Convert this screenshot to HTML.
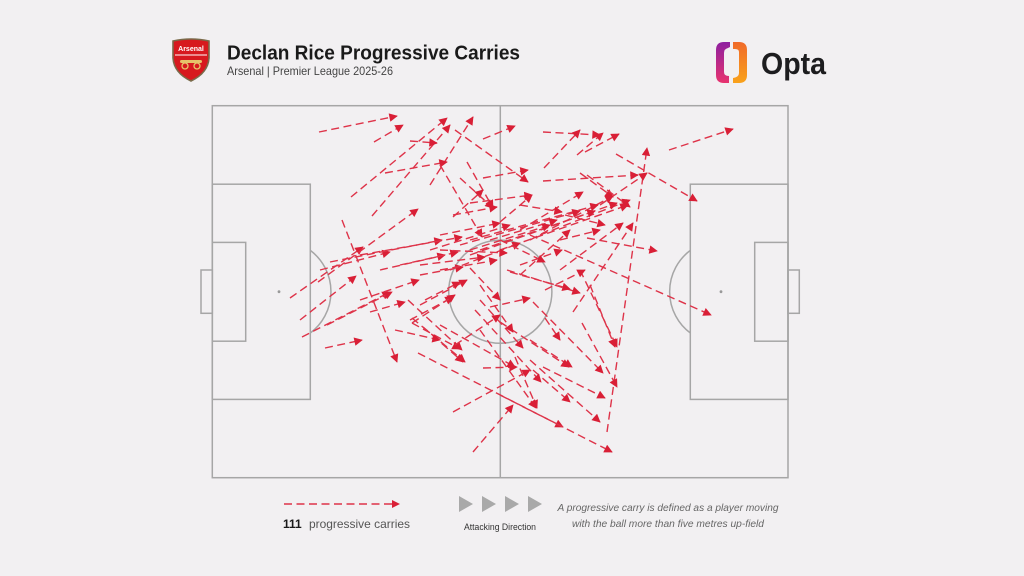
<!DOCTYPE html>
<html><head><meta charset="utf-8"><style>
html,body{margin:0;padding:0;background:#f2f0f2;}
svg{display:block;}
</style></head><body>
<svg width="1024" height="576" viewBox="0 0 1024 576" xmlns="http://www.w3.org/2000/svg">
<defs>
<marker id="ah" viewBox="0 0 10 10" markerWidth="9" markerHeight="8.5" refX="9" refY="5" orient="auto" markerUnits="userSpaceOnUse">
<path d="M0,0 L10,5 L0,10 z" fill="#d91f36"/>
</marker>
<linearGradient id="gl" x1="0" y1="0" x2="0" y2="1"><stop offset="0" stop-color="#8e1fa0"/><stop offset="1" stop-color="#e8336f"/></linearGradient>
<linearGradient id="gr" x1="0" y1="0" x2="0" y2="1"><stop offset="0" stop-color="#f06a2a"/><stop offset="1" stop-color="#f9a21b"/></linearGradient>
</defs>
<rect width="1024" height="576" fill="#f2f0f2"/>

<path d="M173,41 Q191,37 209,41 L209,58 Q208,73 191,81 Q174,73 173,58 Z" fill="#d7191e" stroke="#7a6a4a" stroke-width="1.6"/>
<text x="191" y="51" text-anchor="middle" font-family="Liberation Sans, sans-serif" font-weight="bold" font-size="7" fill="#fff">Arsenal</text>
<line x1="175" y1="55" x2="207" y2="55" stroke="#fff" stroke-width="1"/>
<rect x="180" y="60" width="22" height="3" rx="1.5" fill="#e6c46a"/>
<circle cx="185" cy="66" r="3" fill="none" stroke="#e6c46a" stroke-width="1.3"/>
<circle cx="197" cy="66" r="3" fill="none" stroke="#e6c46a" stroke-width="1.3"/>

<text x="227" y="59.5" font-family="Liberation Sans, sans-serif" font-weight="bold" font-size="20.5" fill="#1a1a1a" textLength="293" lengthAdjust="spacingAndGlyphs">Declan Rice Progressive Carries</text>
<text x="227" y="75" font-family="Liberation Sans, sans-serif" font-size="12" fill="#444" textLength="166" lengthAdjust="spacingAndGlyphs">Arsenal | Premier League 2025-26</text>

<path d="M730,42 L724,42 Q716,42 716,50 L716,75 Q716,83 724,83 L729,83 L729,76 Q724,76 724,72 L724,53 Q724,49 728,48 L730,47 Z" fill="url(#gl)"/>
<path d="M733,42 L739,42 Q747,42 747,50 L747,75 Q747,83 739,83 L733,83 L733,78 Q739,77 739,73 L739,52 Q739,49 735,49 L733,49 Z" fill="url(#gr)"/>
<text x="761" y="74" font-family="Liberation Sans, sans-serif" font-weight="bold" font-size="31" fill="#1d1d1f" textLength="65" lengthAdjust="spacingAndGlyphs">Opta</text>

<g fill="none" stroke="#a6a6a6" stroke-width="1.5">
<rect x="212.3" y="105.7" width="575.7" height="372"/>
<line x1="500.3" y1="105.7" x2="500.3" y2="477.7"/>
<circle cx="500.3" cy="291.7" r="51.6"/>
<rect x="212.3" y="184.2" width="98" height="215.2"/>
<rect x="212.3" y="242.4" width="33.4" height="98.8"/>
<rect x="201" y="270" width="11.3" height="43.3"/>
<path d="M310.3,250.4 A51.6,51.6 0 0 1 310.3,333"/>
<rect x="690.3" y="184.2" width="97.7" height="215.2"/>
<rect x="754.7" y="242.4" width="33.3" height="98.8"/>
<rect x="788" y="270" width="11.3" height="43.3"/>
<path d="M690.3,250.4 A51.6,51.6 0 0 0 690.3,333"/>
</g>
<circle cx="279" cy="291.7" r="1.4" fill="#999"/>
<circle cx="721" cy="291.7" r="1.4" fill="#999"/>

<g stroke="#de3349" stroke-width="1.4" stroke-dasharray="8 4.5" marker-end="url(#ah)" fill="none">
<line x1="319" y1="132" x2="397" y2="116"/>
<line x1="374" y1="142" x2="403" y2="125"/>
<line x1="351" y1="197" x2="447" y2="118"/>
<line x1="372" y1="216" x2="450" y2="125"/>
<line x1="430" y1="185" x2="473" y2="117"/>
<line x1="483" y1="139" x2="515" y2="126"/>
<line x1="543" y1="132" x2="600" y2="135"/>
<line x1="544" y1="168" x2="580" y2="130"/>
<line x1="577" y1="155" x2="603" y2="133"/>
<line x1="585" y1="152" x2="619" y2="134"/>
<line x1="669" y1="150" x2="733" y2="129"/>
<line x1="455" y1="130" x2="528" y2="182"/>
<line x1="483" y1="178" x2="528" y2="170"/>
<line x1="543" y1="181" x2="638" y2="175"/>
<line x1="616" y1="154" x2="697" y2="201"/>
<line x1="607" y1="432" x2="647" y2="148"/>
<line x1="410" y1="141" x2="437" y2="143"/>
<line x1="385" y1="173" x2="447" y2="162"/>
<line x1="467" y1="162" x2="493" y2="208"/>
<line x1="440" y1="165" x2="482" y2="237"/>
<line x1="453" y1="217" x2="483" y2="190"/>
<line x1="580" y1="173" x2="613" y2="197"/>
<line x1="587" y1="175" x2="630" y2="207"/>
<line x1="600" y1="205" x2="647" y2="173"/>
<line x1="587" y1="238" x2="657" y2="251"/>
<line x1="530" y1="235" x2="711" y2="315"/>
<line x1="342" y1="220" x2="397" y2="362"/>
<line x1="290" y1="298" x2="363" y2="247"/>
<line x1="318" y1="282" x2="418" y2="209"/>
<line x1="302" y1="337" x2="390" y2="292"/>
<line x1="325" y1="348" x2="362" y2="340"/>
<line x1="327" y1="325" x2="392" y2="292"/>
<line x1="320" y1="270" x2="390" y2="252"/>
<line x1="330" y1="262" x2="442" y2="240"/>
<line x1="360" y1="255" x2="462" y2="237"/>
<line x1="380" y1="270" x2="445" y2="255"/>
<line x1="400" y1="265" x2="458" y2="252"/>
<line x1="420" y1="275" x2="463" y2="267"/>
<line x1="360" y1="300" x2="419" y2="280"/>
<line x1="370" y1="312" x2="405" y2="302"/>
<line x1="300" y1="320" x2="356" y2="276"/>
<line x1="410" y1="320" x2="453" y2="297"/>
<line x1="420" y1="305" x2="467" y2="280"/>
<line x1="425" y1="300" x2="460" y2="282"/>
<line x1="408" y1="300" x2="462" y2="350"/>
<line x1="412" y1="318" x2="465" y2="362"/>
<line x1="418" y1="353" x2="563" y2="427"/>
<line x1="500" y1="395" x2="612" y2="452"/>
<line x1="453" y1="412" x2="530" y2="370"/>
<line x1="473" y1="452" x2="513" y2="405"/>
<line x1="412" y1="323" x2="460" y2="349"/>
<line x1="423" y1="327" x2="463" y2="362"/>
<line x1="483" y1="368" x2="517" y2="367"/>
<line x1="530" y1="340" x2="572" y2="367"/>
<line x1="515" y1="357" x2="537" y2="408"/>
<line x1="533" y1="370" x2="570" y2="402"/>
<line x1="543" y1="367" x2="605" y2="398"/>
<line x1="530" y1="360" x2="600" y2="422"/>
<line x1="582" y1="323" x2="617" y2="387"/>
<line x1="590" y1="285" x2="615" y2="347"/>
<line x1="533" y1="302" x2="603" y2="373"/>
<line x1="500" y1="322" x2="569" y2="367"/>
<line x1="507" y1="270" x2="580" y2="293"/>
<line x1="510" y1="272" x2="570" y2="289"/>
<line x1="490" y1="307" x2="530" y2="298"/>
<line x1="580" y1="270" x2="617" y2="347"/>
<line x1="573" y1="312" x2="633" y2="223"/>
<line x1="470" y1="203" x2="532" y2="195"/>
<line x1="480" y1="285" x2="513" y2="332"/>
<line x1="480" y1="300" x2="523" y2="348"/>
<line x1="480" y1="330" x2="536" y2="408"/>
<line x1="475" y1="310" x2="541" y2="382"/>
<line x1="440" y1="325" x2="515" y2="367"/>
<line x1="520" y1="230" x2="583" y2="192"/>
<line x1="530" y1="240" x2="613" y2="196"/>
<line x1="540" y1="235" x2="630" y2="200"/>
<line x1="500" y1="250" x2="628" y2="205"/>
<line x1="470" y1="255" x2="617" y2="203"/>
<line x1="470" y1="240" x2="598" y2="205"/>
<line x1="480" y1="250" x2="595" y2="211"/>
<line x1="460" y1="245" x2="580" y2="211"/>
<line x1="520" y1="275" x2="570" y2="230"/>
<line x1="560" y1="270" x2="623" y2="223"/>
<line x1="490" y1="240" x2="557" y2="220"/>
<line x1="470" y1="250" x2="550" y2="225"/>
<line x1="450" y1="270" x2="520" y2="243"/>
<line x1="430" y1="250" x2="510" y2="225"/>
<line x1="440" y1="235" x2="500" y2="223"/>
<line x1="440" y1="270" x2="497" y2="260"/>
<line x1="420" y1="265" x2="485" y2="257"/>
<line x1="440" y1="250" x2="507" y2="253"/>
<line x1="520" y1="265" x2="562" y2="250"/>
<line x1="460" y1="178" x2="493" y2="208"/>
<line x1="412" y1="323" x2="455" y2="295"/>
<line x1="453" y1="215" x2="497" y2="207"/>
<line x1="500" y1="222" x2="532" y2="195"/>
<line x1="560" y1="240" x2="600" y2="230"/>
<line x1="545" y1="290" x2="585" y2="270"/>
<line x1="455" y1="345" x2="500" y2="315"/>
<line x1="520" y1="205" x2="562" y2="212"/>
<line x1="395" y1="330" x2="440" y2="340"/>
<line x1="565" y1="215" x2="605" y2="225"/>
<line x1="500" y1="240" x2="545" y2="262"/>
<line x1="470" y1="268" x2="500" y2="300"/>
<line x1="545" y1="318" x2="560" y2="340"/>
</g>

<line x1="284" y1="504" x2="392" y2="504" stroke="#de3349" stroke-width="1.4" stroke-dasharray="8 4.5"/>
<path d="M392,500 L400,504 L392,508 Z" fill="#d91f36"/>
<text x="283" y="528" font-family="Liberation Sans, sans-serif" font-weight="bold" font-size="12" fill="#1a1a1a">111</text>
<text x="309" y="528" font-family="Liberation Sans, sans-serif" font-size="12" fill="#555" textLength="101" lengthAdjust="spacingAndGlyphs">progressive carries</text>
<g fill="#a9a9a9">
<path d="M459,496 L473,504 L459,512 Z"/>
<path d="M482,496 L496,504 L482,512 Z"/>
<path d="M505,496 L519,504 L505,512 Z"/>
<path d="M528,496 L542,504 L528,512 Z"/>
</g>
<text x="500" y="530" text-anchor="middle" font-family="Liberation Sans, sans-serif" font-size="9" fill="#333" textLength="72" lengthAdjust="spacingAndGlyphs">Attacking Direction</text>
<text x="668" y="511" text-anchor="middle" font-family="Liberation Sans, sans-serif" font-style="italic" font-size="10.5" fill="#666" textLength="221" lengthAdjust="spacingAndGlyphs">A progressive carry is defined as a player moving</text>
<text x="668" y="527" text-anchor="middle" font-family="Liberation Sans, sans-serif" font-style="italic" font-size="10.5" fill="#666" textLength="192" lengthAdjust="spacingAndGlyphs">with the ball more than five metres up-field</text>
</svg>
</body></html>
